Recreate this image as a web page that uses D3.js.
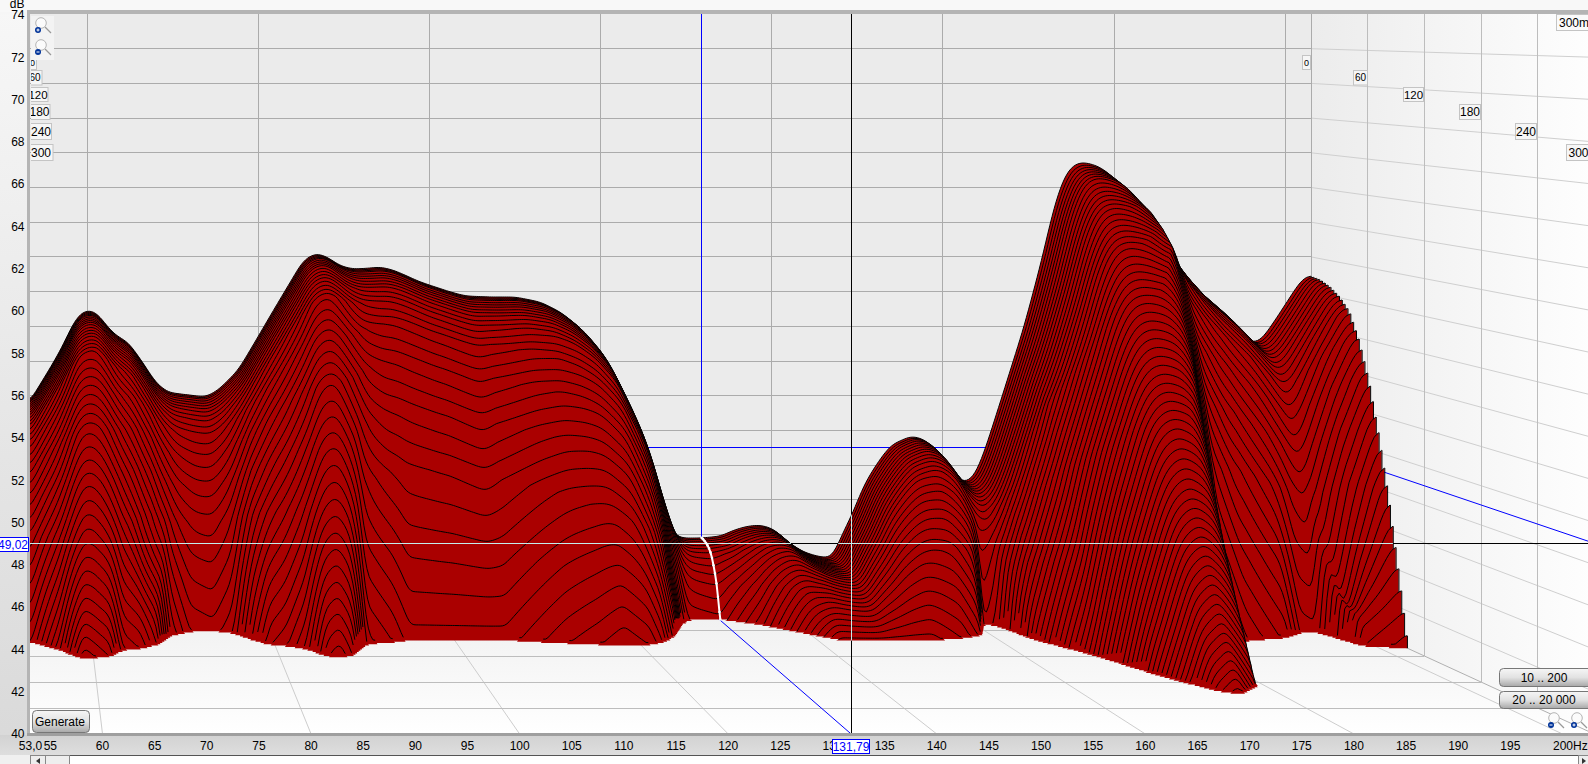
<!DOCTYPE html>
<html><head><meta charset="utf-8">
<script src="https://cdn.jsdelivr.net/npm/d3@7"></script>
<style>html,body{margin:0;padding:0;background:#f4f4f4;overflow:hidden}svg{display:block;font-family:"Liberation Sans",Arial,sans-serif}</style>
</head><body><svg id="c" width="1588" height="764"></svg>
<script>
// Values: level of the first slice (top outline), Hz / dB
const backFreq=[53,53.45,55.67,57.08,58.25,59.18,60.23,61.17,62.22,63.27,64.8,66.55,67.95,69.36,70.88,72.05,73.8,75.32,77.66,79.88,81.99,83.74,85.26,86.78,88.07,89.59,91.11,93.1,94.27,95.79,96.61,98.95,102.46,104.2,107.1,110.06,112.98,115.32,117.66,120,122.34,123.86,125.03,126.2,127.37,128.42,129.36,131.7,134.04,135.56,137.19,138.71,140.23,141.87,143.74,145.73,147.13,148.07,149.47,150.76,152.4,153.92,156.26,157.78,158.95,160.58,162.34,163.63,164.8,166.78,169.47,171.46,172.98,174.15,175.2,176.37,178.13,179.65,181.17,182.8,184.33,186.32,189,192.16,194.85,196.02,197.19,198.6,200.12,201.87,203.04];
const backLevel=[51.5,51.81,53.6,54.81,56.07,56.77,56.94,56.77,56.07,55.5,55.09,53.88,52.79,52.21,52.1,52.04,51.92,52.33,53.48,55.33,57.11,58.55,59.82,60.22,59.99,59.48,59.3,59.36,59.42,59.24,59.07,58.55,57.98,57.75,57.69,57.69,57.4,56.82,55.9,54.52,52.16,50.48,48.75,46.97,45.24,44.09,43.8,43.8,43.91,44.26,44.49,44.55,44.32,43.57,42.99,42.7,42.7,43.86,45.24,46.85,48.18,49.16,49.68,49.5,48.98,47.89,46.97,47.31,48.7,51.75,55.96,59.65,62.88,64.61,65.3,65.47,65.24,64.72,63.86,62.59,60.97,59.71,58.27,56.94,55.61,55.04,55.21,56.19,57.34,58.67,59.01];
// Time (ms) at which each frequency reaches the 40 dB floor (front edge)
const edgeFreq=[53,53.36,54.87,56.49,57.74,58.88,60.4,61.81,63.31,65.19,67.13,68.78,71.13,73.72,75.87,77.79,79.48,81.27,83.29,85.1,86.41,87.96,90.1,93.1,95.06,105.6,112.07,115.5,118.1,121,122.7,124.9,126.6,128.1,131.9,135.9,140.2,142.4,152.6,156.2,158.7,161,162.3,163.7,167.5,170.7,174,175.8,179,181,184,187.1,192,194.8,196.7,197.5,198.5,203.04];
const edgeTime=[90,90,99,108,120,129,126,123,108,105,96,75,66,64.5,69,85.5,96,99,106.5,123,126,120,94.5,90,85.5,85.5,93,96,99,96,90,73.5,51,39,37,51,74,85.5,85.5,81,74,48,54,83,120,166,203,210,192,130,95,87,80,68,67,81,99,104];
// Estimated from the contour columns: decay time of each column away from the floor edge
const shapeFreq=[53,56.5,58.9,60.4,62,64,66,68,70,72,74,76,78,80,82,84,85.5,87,89,91,93,96,100,104,110,113,117,120,122,124,126,128,131.9,136,140,143,152.6,156,159,161,162.3,164,167.5,170.7,174,175.8,178,180,182,184,187,192,196.6,198.5,201,203.04];
const shapeTime=[90,108,129,128,120,104,90,80,70,66,66,72,86,96,102,112,124,126,112,96,90,87,86,84,92,96,100,98,90,78,55,41,37,51,74,85,85.5,81,72,60,60,84,120,166,203,210,200,170,125,100,88,78,67,78,92,106];
// Decay shape measured on three contour columns (fraction of the drop to the floor)
const decayPos=[0,.1,.2,.3,.4,.5,.6,.7,.8,.9,1];
const decayShort=[0,.005,.02,.04,.075,.13,.23,.36,.52,.75,1];
const decayMid=[0,.005,.02,.05,.09,.2,.32,.49,.67,.84,1];
const decayLong=[0,.03,.09,.17,.28,.4,.52,.65,.77,.89,1];
const decayRefs=[86,126,210];
// Axis labels and cursor
const yTicks=d3.range(40,76,2);
const xTicks=[55,60,65,70,75,80,85,90,95,100,105,110,115,120,125,130,135,140,145,150,155,160,165,170,175,180,185,190,195];
const timeTicks=[0,60,120,180,240,300];
const wallFreqs=[60,80,100,120,140,160,180,200];
const cursorFreq=131.79, cursorLevel=49.02;
const sliceStep=3, lastSlice=210;

// Perspective: back and front planes of the box
const xBack=d3.scaleLinear([60,200],[87.2,1285.2]);
const xFront=d3.scaleLinear([60,200],[102.5,1562.5]);
const yBack=d3.scaleLinear([74,40],[14,604]);
const yFront=d3.scaleLinear([74,40],[15,734]);
const zOf=d3.scaleLinear([0,300],[0,1]);
const px=(f,t)=>{const z=zOf(t);return xBack(f)*(1-z)+xFront(f)*z;};
const py=(v,t)=>{const z=zOf(t);return yBack(v)*(1-z)+yFront(v)*z;};
const RIGHT=203.04, L=30, T=14, B=735, R=1588;

const svg=d3.select('#c');
const defs=svg.append('defs');
function grad(id,x2,y2,stops){const g=defs.append('linearGradient').attr('id',id).attr('x1',0).attr('y1',0).attr('x2',x2).attr('y2',y2);
 stops.forEach(([o,c])=>g.append('stop').attr('offset',o).attr('stop-color',c));}
grad('gLeft',0,1,[[0,'#f7f7f7'],[1,'#d9d9d9']]);
grad('gFloor',0,1,[[0,'#efefef'],[1,'#ffffff']]);
grad('gSide',1,0,[[0,'#ececec'],[1,'#fefefe']]);
grad('gBtn',0,1,[[0,'#f6f6f6'],[.5,'#e2e2e2'],[1,'#a8a8a8']]);
grad('gBand',0,1,[[0,'#d2d2d2'],[1,'#dedede']]);
defs.append('clipPath').attr('id','plot').append('rect').attr('x',L).attr('y',T).attr('width',R-L).attr('height',B-T);
const labelClip=defs.append('clipPath').attr('id','leftLabels');
labelClip.append('rect').attr('x',31).attr('y',T).attr('width',40).attr('height',160);

// Chrome
svg.append('rect').attr('width',1588).attr('height',764).attr('fill','#f8f8f8');
svg.append('rect').attr('x',0).attr('y',10).attr('width',L).attr('height',745).attr('fill','url(#gLeft)');
svg.append('rect').attr('x',0).attr('y',B).attr('width',1588).attr('height',20).attr('fill','url(#gBand)');

const plot=svg.append('g').attr('clip-path','url(#plot)');
plot.append('rect').attr('x',L).attr('y',T).attr('width',1290).attr('height',B-T).attr('fill','#ebebeb');
const corner=[px(RIGHT,0),py(40,0)], cornerF=[px(RIGHT,300),py(40,300)];
plot.append('polygon').attr('points',[[L,corner[1]],corner,cornerF,[L,cornerF[1]]].join(' ')).attr('fill','url(#gFloor)');
plot.append('polygon').attr('points',[[corner[0],T],corner,cornerF,[cornerF[0],T]].join(' ')).attr('fill','url(#gSide)');

// Back wall grid
yTicks.filter(v=>v>40&&v<74).forEach(v=>{
 plot.append('line').attr('x1',L).attr('x2',corner[0]).attr('y1',yBack(v)).attr('y2',yBack(v)).attr('stroke','#ababab').attr('shape-rendering','crispEdges');
 plot.append('line').attr('x1',corner[0]).attr('x2',px(RIGHT,300)).attr('y1',yBack(v)).attr('y2',py(v,300)).attr('stroke','#cfcfcf');
});
wallFreqs.concat([RIGHT]).forEach(f=>plot.append('line').attr('x1',xBack(f)).attr('x2',xBack(f)).attr('y1',T).attr('y2',corner[1]).attr('stroke','#ababab').attr('shape-rendering','crispEdges'));
// Floor grid
wallFreqs.forEach(f=>plot.append('line').attr('x1',px(f,0)).attr('y1',py(40,0)).attr('x2',px(f,300)).attr('y2',py(40,300)).attr('stroke','#cdcdcd'));
timeTicks.slice(1,5).forEach(t=>{
 plot.append('line').attr('x1',L).attr('x2',px(RIGHT,t)).attr('y1',py(40,t)).attr('y2',py(40,t)).attr('stroke','#bdbdbd').attr('shape-rendering','crispEdges');
 plot.append('line').attr('x1',px(RIGHT,t)).attr('x2',px(RIGHT,t)).attr('y1',T).attr('y2',py(40,t)).attr('stroke','#bdbdbd').attr('shape-rendering','crispEdges');
});
plot.append('line').attr('x1',corner[0]).attr('y1',corner[1]).attr('x2',cornerF[0]).attr('y2',cornerF[1]).attr('stroke','#b0b0b0');

// Cursor behind the surface
const blue='#0000ff';
plot.append('line').attr('x1',xBack(cursorFreq)).attr('x2',xBack(cursorFreq)).attr('y1',T).attr('y2',corner[1]).attr('stroke',blue).attr('stroke-width',1.2).attr('shape-rendering','crispEdges');
plot.append('line').attr('x1',L).attr('x2',corner[0]).attr('y1',yBack(cursorLevel)).attr('y2',yBack(cursorLevel)).attr('stroke',blue).attr('stroke-width',1.2).attr('shape-rendering','crispEdges');
plot.append('line').attr('x1',corner[0]).attr('y1',yBack(cursorLevel)).attr('x2',cornerF[0]).attr('y2',py(cursorLevel,300)).attr('stroke',blue);
plot.append('line').attr('x1',px(cursorFreq,0)).attr('y1',py(40,0)).attr('x2',px(cursorFreq,300)).attr('y2',py(40,300)).attr('stroke',blue);
plot.append('line').attr('x1',xFront(cursorFreq)).attr('x2',xFront(cursorFreq)).attr('y1',T).attr('y2',B).attr('stroke','#000').attr('shape-rendering','crispEdges');
plot.append('line').attr('x1',L).attr('x2',R).attr('y1',yFront(cursorLevel)).attr('y2',yFront(cursorLevel)).attr('stroke','#000').attr('shape-rendering','crispEdges');

// Surface
const freqs=d3.range(53,RIGHT+.001,.25);
const smooth=(a,w)=>{let o=a;for(let p=0;p<2;p++){const c=o;o=c.map((_,i)=>d3.mean(c.slice(Math.max(0,i-w),Math.min(c.length,i+w+1))));}return o;};
const lvl=d3.scaleLinear(backFreq,backLevel), edg=d3.scaleLinear(edgeFreq,edgeTime), shp=d3.scaleLinear(shapeFreq,shapeTime);
const L0=smooth(freqs.map(lvl),2), E0=smooth(freqs.map(edg),1), S0=smooth(freqs.map(shp),2);
const shapes=decayPos.map((_,i)=>d3.scaleLinear(decayRefs,[decayShort[i],decayMid[i],decayLong[i]]).clamp(true));
const decay=S0.map(e=>d3.scaleLinear(decayPos,shapes.map(s=>s(e))).clamp(true));
const levelAt=(i,t)=>{
 const ue=t/E0[i]; if(ue>=1) return 40-1e-6;
 const us=t/S0[i];
 const a=Math.min(1,Math.max(0,(ue-.7)/.3)),w=a*a*(3-2*a);
 const u=Math.min(.995,us*(1-w)+ue*w);
 return L0[i]-(L0[i]-40)*decay[i](u);
};
const slices=d3.range(0,lastSlice+1,sliceStep);
const surfClip=defs.append('clipPath').attr('id','surf');
const surf=plot.append('g');
slices.forEach(t=>{
 const pts=freqs.map((f,i)=>({f,t,v:levelAt(i,t)}));
 const area=d3.area().x(d=>px(d.f,t)).y0(py(40,t)).y1(d=>py(Math.max(40,d.v),t));
 const line=d3.line().defined(d=>d.v>40).x(d=>px(d.f,t)).y(d=>py(d.v,t));
 const ap=area(pts);
 surf.append('path').attr('d',ap).attr('fill','#aa0000');
 surfClip.append('path').attr('d',ap);
 surf.append('path').attr('d',line(pts)).attr('fill','none').attr('stroke','#000').attr('stroke-width',1);
 const last=pts[pts.length-1];
 if(last.v>40)surf.append('line').attr('x1',px(RIGHT,t)).attr('x2',px(RIGHT,t)).attr('y1',py(last.v,t)).attr('y2',py(40,t)).attr('stroke','#000');
});
// Cursor over the surface
const over=plot.append('g').attr('clip-path','url(#surf)');
over.append('line').attr('x1',xFront(cursorFreq)).attr('x2',xFront(cursorFreq)).attr('y1',T).attr('y2',B).attr('stroke','#c4ecec').attr('shape-rendering','crispEdges');
over.append('line').attr('x1',L).attr('x2',R).attr('y1',yFront(cursorLevel)).attr('y2',yFront(cursorLevel)).attr('stroke','#c4ecec').attr('shape-rendering','crispEdges');
// Decay path at the cursor frequency
const ci=d3.bisector(d=>d).left(freqs,cursorFreq);
const dp=slices.filter(t=>t<=E0[ci]+3).map(t=>({t:Math.min(t,E0[ci]),v:Math.max(40,levelAt(ci,Math.min(t,E0[ci]-.01)))}));
plot.append('path').attr('d',d3.line().x(d=>px(cursorFreq,d.t)).y(d=>py(d.v,d.t))(dp)).attr('fill','none').attr('stroke','#fff').attr('stroke-width',2);
plot.selectAll('circle.dp').data(dp).join('circle').attr('cx',d=>px(cursorFreq,d.t)).attr('cy',d=>py(d.v,d.t)).attr('r',1.3).attr('fill','#fff');

// Frame shading
svg.append('rect').attr('x',0).attr('y',10).attr('width',1588).attr('height',4).attr('fill','#b4b4b4');
svg.append('rect').attr('x',27).attr('y',12).attr('width',3).attr('height',723).attr('fill','#b4b4b4');
svg.append('rect').attr('x',27).attr('y',733).attr('width',1561).attr('height',3).attr('fill','#9f9f9f');
svg.append('rect').attr('x',0).attr('y',0).attr('width',27).attr('height',12).attr('fill','#f8f8f8');
svg.append('rect').attr('x',0).attr('y',12).attr('width',27).attr('height',2).attr('fill','#f6f6f6');

// Axis labels
const txt=(g,x,y,s,a='middle',fs=12,c='#000')=>g.append('text').attr('x',x).attr('y',y).attr('dy','.36em').attr('text-anchor',a).attr('font-size',fs).attr('fill',c).text(s);
svg.selectAll('text.y').data(yTicks).join('text').attr('class','y').attr('x',24.5).attr('y',d=>yFront(d)).attr('dy','.36em').attr('text-anchor','end').attr('font-size',12).text(d=>d);
txt(svg,24.5,4,'dB','end');
svg.selectAll('text.x').data(xTicks).join('text').attr('class','x').attr('x',d=>xFront(d)).attr('y',746).attr('dy','.36em').attr('text-anchor','middle').attr('font-size',12).text(d=>d);
txt(svg,xFront(53)+1,746,'53,0');
txt(svg,1553,746,'200Hz','start');

// Time labels
const tBoxY=[[55,14],[70,14.5],[87,14],[104,15],[123,16],[144,16]];
const tFont=[9,10,11.5,12,12,12];
const leftG=svg.append('g').attr('clip-path','url(#leftLabels)');
const leftEnd=[36,41.5,47.5,49.5,51,52.5], rightEnd=[1310,1367,1423,1480,1536,1590];
const boxW=[8,14,20,21,21,24];
timeTicks.forEach((t,i)=>{
 [[leftG,leftEnd[i]],[svg,rightEnd[i]]].forEach(([g,e])=>{
  g.append('rect').attr('x',e-boxW[i]+.5).attr('y',tBoxY[i][0]+.5).attr('width',boxW[i]).attr('height',tBoxY[i][1]).attr('fill','#f6f6f6').attr('stroke','#c4c4c4');
  txt(g,e-boxW[i]/2+.5,tBoxY[i][0]+tBoxY[i][1]/2+.5,t,'middle',tFont[i]);
 });
});
svg.append('rect').attr('x',1556.5).attr('y',14.5).attr('width',40).attr('height',16).attr('fill','#fafafa').attr('stroke','#c4c4c4');
txt(svg,1559,22.5,'300ms','start');

// Cursor read-outs
const box=(x,y,w,h,s)=>{svg.append('rect').attr('x',x+.5).attr('y',y+.5).attr('width',w).attr('height',h).attr('fill','#fff').attr('stroke','#0000ff');
 txt(svg,x+w/2+.5,y+h/2+.5,s,'middle',12,'#0000ff');};
box(-3,537,31,14,'49,02');
box(832,739,37,14,'131,79');

// Buttons
const btn=(x,y,w,h,s,tx)=>{svg.append('rect').attr('x',x+.5).attr('y',y+.5).attr('width',w).attr('height',h).attr('rx',4).attr('fill','url(#gBtn)').attr('stroke','#777');
 txt(svg,tx,y+h/2+.5,s,'middle',12);};
btn(32,710,57,22,'Generate',60);
btn(1499,668,110,18,'10 .. 200',1544);
btn(1499,691,110,17,'20 .. 20 000',1544);

// Zoom icons
svg.append('rect').attr('x',31).attr('y',16).attr('width',23).attr('height',44).attr('fill','#f3f3f3');
const mag=(cx,cy,plus)=>{const g=svg.append('g');
 g.append('line').attr('x1',cx+4).attr('y1',cy+4).attr('x2',cx+10).attr('y2',cy+10).attr('stroke','#999').attr('stroke-width',1.3);
 g.append('circle').attr('cx',cx).attr('cy',cy).attr('r',5.3).attr('fill','#fbfbfb').attr('stroke','#b5b5b5');
 g.append('circle').attr('cx',cx-3).attr('cy',cy+7).attr('r',3).attr('fill','#003399');
 g.append('line').attr('x1',cx-4.5).attr('x2',cx-1.5).attr('y1',cy+7).attr('y2',cy+7).attr('stroke','#fff');
 if(plus)g.append('line').attr('x1',cx-3).attr('x2',cx-3).attr('y1',cy+5.5).attr('y2',cy+8.5).attr('stroke','#fff');};
mag(41,23,true);mag(41,45,false);
mag(1554,718,false);mag(1577,718,true);

// Scrollbar row
svg.append('rect').attr('x',0).attr('y',755).attr('width',1588).attr('height',9).attr('fill','#f0f0f0');
svg.append('rect').attr('x',30.5).attr('y',755.5).attr('width',1558).attr('height',10).attr('fill','#fff').attr('stroke','#555');
svg.append('rect').attr('x',30.5).attr('y',755.5).attr('width',15).attr('height',10).attr('fill','#eee').attr('stroke','#888');
svg.append('rect').attr('x',45.5).attr('y',755.5).attr('width',24).attr('height',10).attr('fill','#eee').attr('stroke','#888');
svg.append('path').attr('d','M36 761L40 758V764Z').attr('fill','#333');
svg.append('rect').attr('x',1578.5).attr('y',755.5).attr('width',12).attr('height',10).attr('fill','#eee').attr('stroke','#888');
svg.append('path').attr('d','M1586 761L1582 758V764Z').attr('fill','#333');
</script></body></html>
